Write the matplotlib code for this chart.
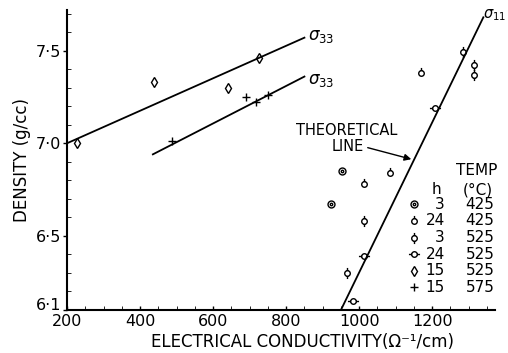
import numpy as np
import matplotlib
matplotlib.use('Agg')
import matplotlib.pyplot as plt
from matplotlib.path import Path

plt.rcParams['font.family'] = 'DejaVu Sans'
plt.rcParams['mathtext.fontset'] = 'dejavusans'

## fitted lines (conductivity, density)
s33_upper_x = [200, 850]
s33_upper_y = [7.00, 7.57]
s33_lower_x = [435, 850]
s33_lower_y = [6.94, 7.36]
s11_x = [950, 1340]
s11_y = [6.10, 7.68]

## measured points, one group per anneal time / temperature
h3_t425_x = [953, 923]
h3_t425_y = [6.85, 6.67]
h24_t425_x = [1170, 1085, 1014]
h24_t425_y = [7.38, 6.84, 6.78]
h3_t525_x = [1285, 1313, 1314, 1014, 967]
h3_t525_y = [7.49, 7.42, 7.37, 6.58, 6.30]
h24_t525_x = [1208, 1014, 984]
h24_t525_y = [7.19, 6.39, 6.15]
h15_t525_x = [227, 438, 641, 726]
h15_t525_y = [7.00, 7.33, 7.30, 7.46]
h15_t575_x = [488, 690, 718, 751]
h15_t575_y = [7.01, 7.25, 7.22, 7.26]

legend_h = ['3', '24', '3', '24', '15', '15']
legend_temp = ['425', '425', '525', '525', '525', '575']

x_ticks = [200, 400, 600, 800, 1000, 1200]
y_ticks = [6.1, 6.5, 7.0, 7.5]
y_ticklabels = ['6·1', '6·5', '7·0', '7·5']


## custom marker shapes
def circ(r=1.0):
    return Path.circle((0, 0), r)

def seg(a, b):
    return Path([a, b], [Path.MOVETO, Path.LINETO])

m_dot = Path.make_compound_path(circ(1.0), circ(0.35))
m_top = Path.make_compound_path(circ(1.0), seg((0, 1), (0, 2)))
m_vert = Path.make_compound_path(circ(1.0), seg((0, 1), (0, 2)), seg((0, -1), (0, -2)))
m_horiz = Path.make_compound_path(circ(1.0), seg((1, 0), (2, 0)), seg((-1, 0), (-2, 0)))

styles = [
    dict(marker=m_dot, ms=5),
    dict(marker=m_top, ms=8),
    dict(marker=m_vert, ms=8),
    dict(marker=m_horiz, ms=8),
    dict(marker='d', ms=5.5),
    dict(marker='+', ms=6),
]
groups = [(h3_t425_x, h3_t425_y), (h24_t425_x, h24_t425_y),
          (h3_t525_x, h3_t525_y), (h24_t525_x, h24_t525_y),
          (h15_t525_x, h15_t525_y), (h15_t575_x, h15_t575_y)]

fig = plt.figure(figsize=(5.08, 3.53), dpi=100)
ax = fig.add_axes([0.132, 0.122, 0.8425, 0.85])

lw = 1.3
ax.plot(s33_upper_x, s33_upper_y, color='black', lw=lw)
ax.plot(s33_lower_x, s33_lower_y, color='black', lw=lw)
ax.plot(s11_x, s11_y, color='black', lw=lw)

for (gx, gy), st in zip(groups, styles):
    ax.plot(gx, gy, ls='none', color='black', mfc='none', mew=1.0, **st)

ax.text(860, 7.58, r'$\sigma_{33}$', fontsize=12, va='center', ha='left')
ax.text(860, 7.34, r'$\sigma_{33}$', fontsize=12, va='center', ha='left')
ax.text(1340, 7.69, r'$\sigma_{11}$', fontsize=10.5, va='center', ha='left')

ax.text(965, 7.07, 'THEORETICAL', fontsize=10.5, ha='center', va='center')
ax.text(968, 6.98, 'LINE', fontsize=10.5, ha='center', va='center')
ax.annotate('', xy=(1150, 6.91), xytext=(1016, 6.98),
            arrowprops=dict(arrowstyle='-|>', color='black', lw=1.0,
                            mutation_scale=10))

# legend drawn as a small table
ax.text(1323, 6.855, 'TEMP', fontsize=11, ha='center', va='center')
ax.text(1211, 6.75, 'h', fontsize=11, ha='center', va='center')
ax.text(1325, 6.75, '(°C)', fontsize=11, ha='center', va='center')
row_y = 6.670
for st, hh, tt in zip(styles, legend_h, legend_temp):
    ax.plot([1151], [row_y], ls='none', color='black', mfc='none', mew=1.0,
            clip_on=False, **st)
    ax.text(1234, row_y, hh, fontsize=11, ha='right', va='center')
    ax.text(1331, row_y, tt, fontsize=11, ha='center', va='center')
    row_y -= 0.0895

ax.set_xlim(200, 1372)
ax.set_ylim(6.1, 7.72)
ax.set_xticks(x_ticks)
ax.set_xticks(np.arange(200, 1371, 50), minor=True)
ax.set_yticks(y_ticks, labels=y_ticklabels)
ax.set_yticks(np.arange(6.1, 7.75, 0.1), minor=True)
ax.tick_params(labelsize=11.5, width=1.0)
ax.tick_params(axis='x', which='both', direction='in', length=3, pad=3)
ax.tick_params(axis='y', which='major', direction='out', length=3, pad=1)
ax.tick_params(axis='y', which='minor', direction='in', length=3)
# lift the bottom label a little so it clears "200"
ax.get_yticklabels()[0].set_va('baseline')

for s in ['top', 'right']:
    ax.spines[s].set_visible(False)
for s in ['left', 'bottom']:
    ax.spines[s].set_linewidth(1.5)

ax.set_xlabel('ELECTRICAL CONDUCTIVITY(Ω⁻¹/cm)', fontsize=12)
ax.set_ylabel('DENSITY (g/cc)', fontsize=12)
ax.xaxis.set_label_coords(0.549, -0.107)
ax.yaxis.set_label_coords(-0.105, 0.5)
ax.xaxis.label.set_va('center')
ax.yaxis.label.set_va('center')

fig.savefig('out.png', dpi=100)
